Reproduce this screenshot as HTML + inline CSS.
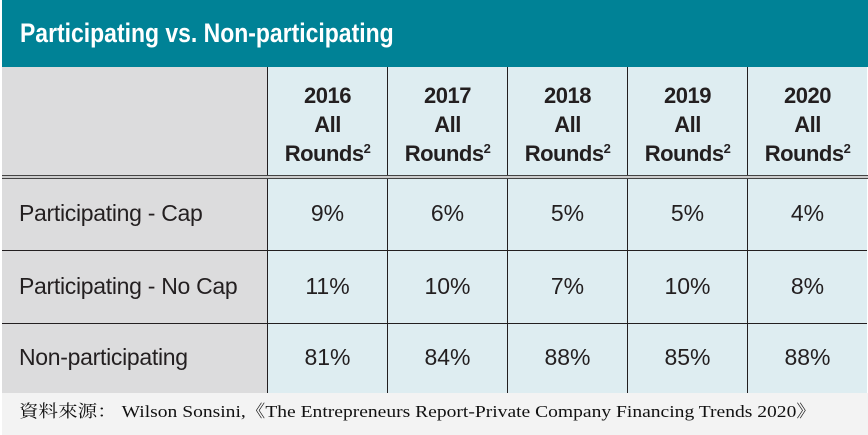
<!DOCTYPE html>
<html><head><meta charset="utf-8"><style>
body{margin:0;width:868px;height:435px;background:#fff;position:relative;overflow:hidden;font-family:"Liberation Sans Narrow","Liberation Sans",sans-serif}
.t{position:absolute;left:2px;top:0;width:866px;height:67px;background:#008296}
.t span{position:absolute;left:18px;top:0;color:#fff;font-weight:bold;font-size:27px;line-height:67px;transform:scaleX(0.85);transform-origin:left center;white-space:nowrap}
.c{position:absolute;box-sizing:border-box}
.g{background:#dcdcdd}
.b{background:#deedf1}
.hd{font-weight:bold;font-size:22px;line-height:29px;text-align:center;color:#231f20;padding-top:14px;letter-spacing:-0.5px}
.hd sup{font-size:13px;vertical-align:8px;line-height:0}
.v{font-size:23px;color:#231f20;text-align:center}
.l{font-size:23px;color:#231f20;padding-left:17px;white-space:nowrap;letter-spacing:-0.3px}
.f{position:absolute;left:2px;top:393px;width:866px;height:42px;background:#f3f3f3}
.f span{position:absolute;left:17px;top:0;font-family:"Liberation Serif","Noto Serif CJK SC",serif;font-size:17px;line-height:38px;color:#111;transform:scaleX(1.15);transform-origin:left center;white-space:nowrap}
</style></head><body>
<div class="t"><span>Participating vs. Non-participating</span></div>
<div class="c g" style="left:2px;top:67px;width:265px;height:109px"></div>
<div id="grid"></div>
<div class="c" style="left:2px;top:175px;width:866px;height:4px;border-top:1px solid #444;border-bottom:1px solid #444;background:#ccc"></div>
<div class="f"><span>資料來源： Wilson Sonsini,《The Entrepreneurs Report-Private Company Financing Trends 2020》</span></div>
<script>
var yrs=["2016","2017","2018","2019","2020"];
var rows=[["Participating - Cap","9%","6%","5%","5%","4%"],["Participating - No Cap","11%","10%","7%","10%","8%"],["Non-participating","81%","84%","88%","85%","88%"]];
var ys=[179,250,323,393];var h="";
for(var i=0;i<5;i++){var x=267+i*120;
h+='<div class="c b hd" style="left:'+x+'px;top:67px;width:120px;height:108px;border-left:1px solid #231f20">'+yrs[i]+'<br>All<br>Rounds<sup>2</sup></div>';}
for(var r=0;r<3;r++){var t=ys[r],hh=ys[r+1]-t;
h+='<div class="c g l" style="left:2px;top:'+t+'px;width:265px;height:'+hh+'px;line-height:'+(hh-3)+'px;'+(r?'border-top:1px solid #231f20':'')+'">'+rows[r][0]+'</div>';
for(var i=0;i<5;i++){var x=267+i*120;
h+='<div class="c b v" style="left:'+x+'px;top:'+t+'px;width:120px;height:'+hh+'px;line-height:'+(hh-3)+'px;border-left:1px solid #231f20;'+(r?'border-top:1px solid #231f20':'')+'">'+rows[r][i+1]+'</div>';}}
document.getElementById('grid').innerHTML=h;
</script>
</body></html>
